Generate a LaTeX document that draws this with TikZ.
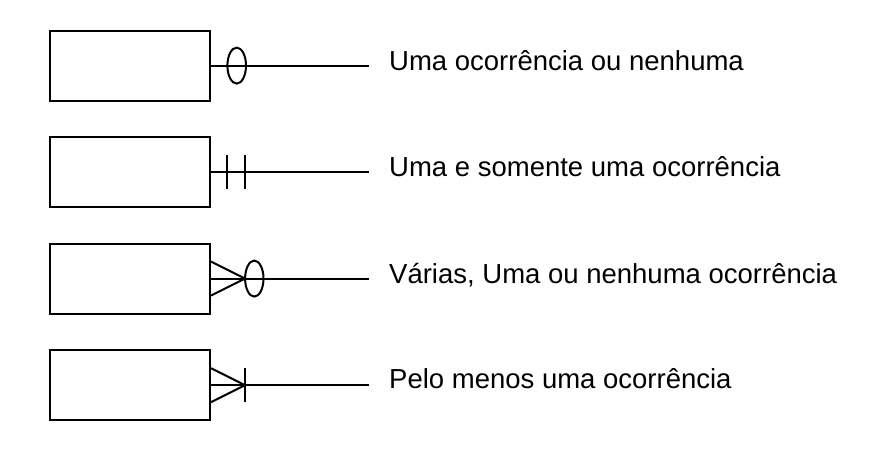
\documentclass[tikz,border=0pt]{standalone}
\usepackage{fontspec}
\setmainfont{Liberation Sans}

\begin{document}
\begin{tikzpicture}[x=1pt,y=-1pt,
    entity/.style={rectangle, draw, line width=2pt, minimum width=160pt,
        minimum height=70pt, inner sep=0pt},
    card/.style={line width=2pt},
    caption/.style={anchor=base west, inner sep=0pt,
        font=\fontsize{27.5}{32}\selectfont}
]
\useasboundingbox (0,0) rectangle (871,457);
% entidades
\node (Ent01) [entity] at (130,65.6) {};
\node (Ent02) [entity] at (130,172.2) {};
\node (Ent03) [entity] at (130,278.6) {};
\node (Ent04) [entity] at (130,385.2) {};
% fim das linhas
\coordinate (End01) at (369,65.6);
\coordinate (End02) at (369,172.2);
\coordinate (End03) at (369,278.6);
\coordinate (End04) at (369,385.2);
% textos
\node (Txt01) [caption] at (389,71) {Uma ocorrência ou nenhuma};
\node (Txt02) [caption] at (389,177) {Uma e somente uma ocorrência};
\node (Txt03) [caption] at (389,283.5) {Várias, Uma ou nenhuma ocorrência};
\node (Txt04) [caption] at (389,388.5) {Pelo menos uma ocorrência};
% linhas
\draw [card] (Ent01.east) -- (End01);
\draw [card] (Ent02.east) -- (End02);
\draw [card] (Ent03.east) -- (End03);
\draw [card] (Ent04.east) -- (End04);
% zero ou um
\coordinate (Opt01) at (236.7,65.6);
\draw [card] (Opt01) ellipse [x radius=9.3pt, y radius=18pt];
% um e somente um
\coordinate (Bar02a) at (227.3,172.2);
\coordinate (Bar02b) at (245.3,172.2);
\draw [card] ([yshift=17pt]Bar02a) -- ([yshift=-17pt]Bar02a);
\draw [card] ([yshift=17pt]Bar02b) -- ([yshift=-17pt]Bar02b);
% muitos, zero ou um
\coordinate (Tip03) at (245,278.6);
\draw [card] ([yshift=17pt]Ent03.east) -- (Tip03) -- ([yshift=-17pt]Ent03.east);
\coordinate (Opt03) at (254.3,278.6);
\draw [card] (Opt03) ellipse [x radius=9.2pt, y radius=18pt];
% pelo menos um
\coordinate (Tip04) at (245,385.2);
\draw [card] ([yshift=17pt]Ent04.east) -- (Tip04) -- ([yshift=-17pt]Ent04.east);
\draw [card] ([yshift=17pt]Tip04) -- ([yshift=-17pt]Tip04);
\end{tikzpicture}
\end{document}
